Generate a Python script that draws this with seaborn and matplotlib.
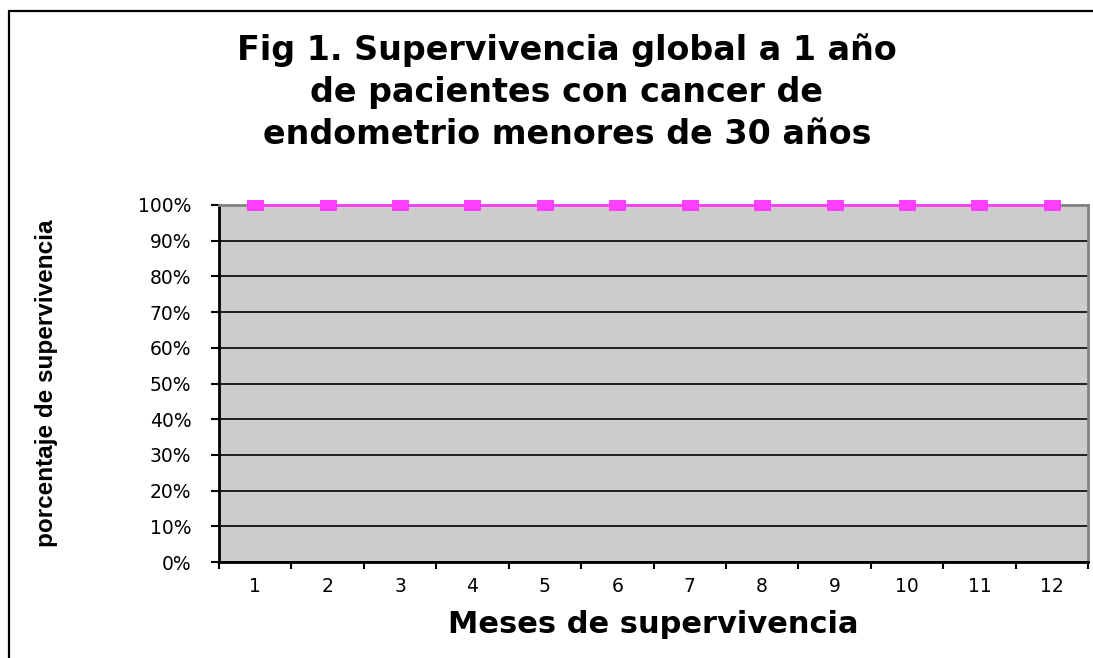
import matplotlib
matplotlib.use("Agg")
import matplotlib.pyplot as plt
from matplotlib.patches import Rectangle
from matplotlib.ticker import FixedLocator, NullFormatter, FixedFormatter
import seaborn as sns
import pandas as pd

# ---- data ----
months = [1, 2, 3, 4, 5, 6, 7, 8, 9, 10, 11, 12]
survival = [1.0, 1.0, 1.0, 1.0, 1.0, 1.0, 1.0, 1.0, 1.0, 1.0, 1.0, 1.0]
y_ticks = [0.0, 0.1, 0.2, 0.3, 0.4, 0.5, 0.6, 0.7, 0.8, 0.9, 1.0]
y_tick_labels = ["0%", "10%", "20%", "30%", "40%", "50%", "60%", "70%", "80%", "90%", "100%"]
month_labels = ["1", "2", "3", "4", "5", "6", "7", "8", "9", "10", "11", "12"]
title_lines = ["Fig 1. Supervivencia global a 1 año",
               "de pacientes con cancer de",
               "endometrio menores de 30 años"]
x_label = "Meses de supervivencia"
y_label = "porcentaje de supervivencia"

sns.set_theme(style="white")
plt.rcParams["font.family"] = ["DejaVu Sans"]
plt.rcParams["text.color"] = "black"
plt.rcParams["axes.labelcolor"] = "black"
plt.rcParams["xtick.color"] = "black"
plt.rcParams["ytick.color"] = "black"

W, H = 1093, 658
fig = plt.figure(figsize=(W / 100, H / 100), dpi=100)
ax = fig.add_axes([219 / W, 1 - 562 / H, (1088 - 219) / W, (562 - 205) / H])
ax.set_facecolor("#CCCCCC")

df = pd.DataFrame({"mes": months, "sup": survival})
line_color = "#FF40FF"
rect_marker = [(-1.0, -0.64), (1.0, -0.64), (1.0, 0.64), (-1.0, 0.64), (-1.0, -0.64)]
sns.lineplot(data=df, x="mes", y="sup", ax=ax, color=line_color, linewidth=2,
             marker=rect_marker, markersize=11, markeredgecolor=line_color,
             markerfacecolor=line_color, clip_on=False, zorder=5)

ax.set_xlim(0.5, 12.5)
ax.set_ylim(0, 1)

# y axis
ax.yaxis.set_major_locator(FixedLocator(y_ticks))
ax.yaxis.set_major_formatter(FixedFormatter(y_tick_labels))
ax.grid(axis="y", color="black", linewidth=1.2)
ax.grid(axis="x", visible=False)

# x axis: ticks between categories, labels at categories
ax.xaxis.set_major_locator(FixedLocator([m - 0.5 for m in months] + [months[-1] + 0.5]))
ax.xaxis.set_major_formatter(NullFormatter())
ax.xaxis.set_minor_locator(FixedLocator(months))
ax.xaxis.set_minor_formatter(FixedFormatter(month_labels))

ax.tick_params(axis="y", which="major", direction="out", length=6, width=1.5,
               color="black", labelcolor="black", labelsize=13.5, pad=14, left=True)
ax.tick_params(axis="x", which="major", direction="out", length=5, width=1.5,
               color="black", bottom=True)
ax.tick_params(axis="x", which="minor", length=0, labelsize=13.5, pad=11,
               labelcolor="black")

for side in ["left", "bottom"]:
    ax.spines[side].set_color("black")
    ax.spines[side].set_linewidth(2)
for side in ["top", "right"]:
    ax.spines[side].set_visible(True)
    ax.spines[side].set_color("#808080")
    ax.spines[side].set_linewidth(2)

ax.set_xlabel(x_label, fontsize=22, fontweight="bold", labelpad=10, color="black")
ax.set_ylabel(y_label, fontsize=17.5, fontweight="bold", color="black",
              family=["Liberation Sans", "DejaVu Sans"])
ax.yaxis.set_label_coords(58 / W, 0.5, transform=matplotlib.transforms.blended_transform_factory(
    fig.transFigure, ax.transAxes))

fig.text(567 / W, 1 - 92 / H, "\n".join(title_lines), ha="center", va="center",
         fontsize=24, fontweight="bold", linespacing=1.36, color="black")

frame = Rectangle((9 / W, -0.1), 1.2, 1 - 11 / H + 0.1, transform=fig.transFigure,
                  fill=False, edgecolor="black", linewidth=1.6, clip_on=False)
fig.add_artist(frame)

fig.savefig("out.png", dpi=100)
